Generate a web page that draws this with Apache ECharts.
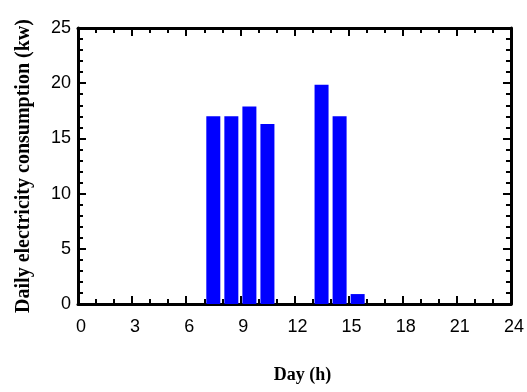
<!DOCTYPE html>
<html>
<head>
<meta charset="utf-8">
<script src="https://cdn.jsdelivr.net/npm/echarts@6/dist/echarts.min.js"></script>
<style>
  html, body { margin: 0; padding: 0; background: #fff; }
  #chart { width: 527px; height: 392px; }
</style>
</head>
<body>
<div id="chart"></div>
<script>
// hour of day (bar centre) and consumption (kw)
var hours = [7.5, 8.5, 9.5, 10.5, 13.5, 14.5, 15.5];
var consumption = [17, 17, 17.9, 16.3, 19.85, 17, 0.9];
var xTicks = [0, 3, 6, 9, 12, 15, 18, 21, 24];
var yTicks = [0, 5, 10, 15, 20, 25];

var chart = echarts.init(document.getElementById('chart'));

var tickFont = { fontFamily: 'Liberation Sans, Arial, sans-serif', fontSize: 18, color: '#000' };
var lineStyle = { color: '#000', width: 3 };

function frameAxis(base, opts) {
  return Object.assign({
    type: 'value',
    axisLine: { show: true, onZero: false, lineStyle: lineStyle },
    axisTick: { show: true, inside: true, length: 8, lineStyle: { color: '#000', width: 2 } },
    splitLine: { show: false },
    minorSplitLine: { show: false }
  }, base, opts);
}

function minor(n) {
  return { show: true, splitNumber: n, length: 5, lineStyle: { color: '#000', width: 2 } };
}

var data = hours.map(function (h, i) { return [h, consumption[i]]; });

chart.setOption({
  animation: false,
  backgroundColor: '#fff',
  grid: { left: 78, right: 8, top: 28, bottom: 88 },
  xAxis: [
    frameAxis({ min: xTicks[0], max: xTicks[xTicks.length - 1], interval: 3 }, {
      position: 'bottom',
      minorTick: minor(3),
      axisLabel: Object.assign({ margin: 14, padding: [0, 0, 0, 6] }, tickFont),
      name: 'Day (h)',
      nameLocation: 'middle',
      nameGap: 62,
      nameTextStyle: { fontFamily: 'Liberation Serif, Times New Roman, serif', fontWeight: 'bold', fontSize: 18, color: '#000', padding: [0, 0, 0, 16] }
    }),
    frameAxis({ min: xTicks[0], max: xTicks[xTicks.length - 1], interval: 3 }, {
      position: 'top',
      minorTick: minor(3),
      axisLabel: { show: false }
    })
  ],
  yAxis: [
    frameAxis({ min: yTicks[0], max: yTicks[yTicks.length - 1], interval: 5 }, {
      position: 'left',
      minorTick: minor(5),
      axisLabel: Object.assign({ margin: 7 }, tickFont),
      name: 'Daily electricity consumption (kw)',
      nameLocation: 'middle',
      nameGap: 44,
      nameRotate: 90,
      nameTextStyle: { fontFamily: 'Liberation Serif, Times New Roman, serif', fontWeight: 'bold', fontSize: 20, color: '#000' }
    }),
    frameAxis({ min: yTicks[0], max: yTicks[yTicks.length - 1], interval: 5 }, {
      position: 'right',
      minorTick: minor(5),
      axisLabel: { show: false }
    })
  ],
  series: [{
    type: 'bar',
    xAxisIndex: 0,
    yAxisIndex: 0,
    barWidth: 14,
    itemStyle: { color: '#0000ff' },
    data: data
  }]
});
</script>
</body>
</html>
